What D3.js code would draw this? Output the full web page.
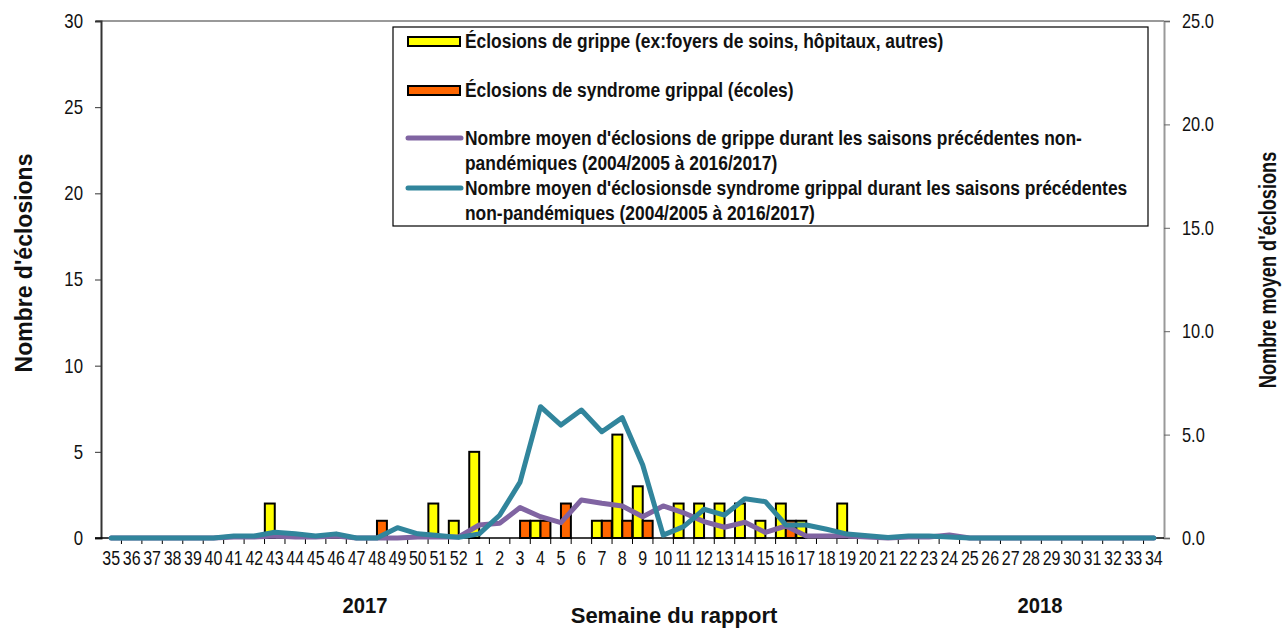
<!DOCTYPE html>
<html>
<head>
<meta charset="utf-8">
<script src="https://cdn.jsdelivr.net/npm/d3@7"></script>
<style>
  body { margin: 0; background: #fff; }
  svg text { font-family: "Liberation Sans", Arial, sans-serif; fill: #111; }
</style>
</head>
<body>
<div id="chartContainer"></div>
<script>
// week labels (season 2017/2018)
const weeks = ["35","36","37","38","39","40","41","42","43","44","45","46","47","48","49","50","51","52",
	"1","2","3","4","5","6","7","8","9","10","11","12","13","14","15","16","17","18","19","20",
	"21","22","23","24","25","26","27","28","29","30","31","32","33","34"];

// outbreaks of influenza (care homes, hospitals, others)
const grippe = [0,0,0,0,0,0,0,0,2,0,0,0,0,0,0,0,2,1,
	5,0,0,1,0,0,1,6,3,0,2,2,2,2,1,2,1,0,2,0,
	0,0,0,0,0,0,0,0,0,0,0,0,0,0];

// outbreaks of influenza-like illness (schools)
const syndrome = [0,0,0,0,0,0,0,0,0,0,0,0,0,1,0,0,0,0,
	0,0,1,1,2,0,1,1,1,0,0,0,0,0,0,1,0,0,0,0,
	0,0,0,0,0,0,0,0,0,0,0,0,0,0];

// average of previous non-pandemic seasons, influenza
const moyenGrippe = [0,0,0,0,0,0,0.05,0.05,0.1,0.05,0.05,0.1,0,0,0,0.05,0.05,0.05,
	0.63,0.71,1.47,1.03,0.74,1.84,1.68,1.55,1.03,1.55,1.22,0.79,0.52,0.76,0.27,0.58,0.1,0.1,0.1,0.05,
	0,0.05,0.05,0.15,0,0,0,0,0,0,0,0,0,0];

// average of previous non-pandemic seasons, ILI
const moyenSyndrome = [0,0,0,0,0,0,0.1,0.1,0.28,0.2,0.1,0.2,0,0,0.5,0.2,0.12,0.03,
	0.2,1.1,2.7,6.35,5.46,6.19,5.14,5.82,3.53,0.14,0.55,1.39,1.11,1.9,1.76,0.63,0.63,0.42,0.19,0.11,
	0.02,0.1,0.1,0.05,0,0,0,0,0,0,0,0,0,0];

const leftTicks = [0,5,10,15,20,25,30];
const rightTicks = [0,5,10,15,20,25];

const legendItems = [
	{ kind: "bar", color: "#FFFF00", lines: ["Éclosions de grippe (ex:foyers de soins, hôpitaux, autres)"] },
	{ kind: "bar", color: "#FF6600", lines: ["Éclosions de syndrome grippal (écoles)"] },
	{ kind: "line", color: "#8064A2", lines: ["Nombre moyen d'éclosions de grippe durant les saisons précédentes non-", "pandémiques (2004/2005 à 2016/2017)"] },
	{ kind: "line", color: "#31859C", lines: ["Nombre moyen d'éclosionsde syndrome grippal  durant les saisons précédentes", "non-pandémiques (2004/2005 à 2016/2017)"] }
];

// squeeze text horizontally to mimic a narrow font
function condense(sel, k){
	sel.each(function(){
		let t = d3.select(this);
		let x = +t.attr("x") || 0;
		t.attr("x", x / k).attr("transform", `scale(${k},1)`);
	});
}

function drawChart(){

	let svg = d3.select("#chartContainer")
		.append("svg")
		.attr("width", 1283)
		.attr("height", 629);

	let left = 101, right = 1164, top = 21, bottom = 538;

	let x = d3.scaleBand()
		.domain(weeks)
		.range([left, right]);

	let xSub = d3.scaleBand()
		.domain(["grippe", "syndrome"])
		.range([0, x.bandwidth()])
		.paddingOuter(0.03);

	let yLeft = d3.scaleLinear().domain([0, 30]).range([bottom, top]);
	let yRight = d3.scaleLinear().domain([0, 25]).range([bottom, top]);

	// top border of plot area
	svg.append("line")
		.attr("x1", left - 5).attr("x2", right)
		.attr("y1", top).attr("y2", top)
		.attr("stroke", "#999").attr("stroke-width", 2);

	// bars
	let barData = [];
	weeks.forEach((w, i) => {
		barData.push({ week: w, key: "grippe", value: grippe[i], color: "#FFFF00" });
		barData.push({ week: w, key: "syndrome", value: syndrome[i], color: "#FF6600" });
	});

	svg.append("g")
		.selectAll("rect")
		.data(barData.filter(d => d.value > 0))
		.join("rect")
		.attr("x", d => x(d.week) + xSub(d.key))
		.attr("y", d => yLeft(d.value))
		.attr("width", xSub.bandwidth())
		.attr("height", d => yLeft(0) - yLeft(d.value))
		.attr("fill", d => d.color)
		.attr("stroke", "#000")
		.attr("stroke-width", 2);

	// left axis
	let leftAxis = svg.append("g")
		.attr("transform", `translate(${left},0)`)
		.call(d3.axisLeft(yLeft).tickValues(leftTicks).tickSize(6).tickPadding(12).tickFormat(d3.format("d")));
	leftAxis.select(".domain").attr("stroke", "#333").attr("stroke-width", 2);
	leftAxis.selectAll(".tick line").attr("stroke", "#333");
	leftAxis.selectAll(".tick text").attr("font-size", 20).attr("font-family", null).call(condense, 0.84);

	// right axis
	let rightAxis = svg.append("g")
		.attr("transform", `translate(${right},0)`)
		.call(d3.axisRight(yRight).tickValues(rightTicks).tickSize(6).tickPadding(12).tickFormat(d3.format(".1f")));
	rightAxis.select(".domain").attr("stroke", "#999").attr("stroke-width", 2);
	rightAxis.selectAll(".tick line").attr("stroke", "#666");
	rightAxis.selectAll(".tick text").attr("font-size", 20).attr("font-family", null).call(condense, 0.82);

	// bottom axis: labels centred, ticks between categories
	let bottomAxis = svg.append("g")
		.attr("transform", `translate(0,${bottom})`)
		.call(d3.axisBottom(x).tickSize(0).tickPadding(13));
	bottomAxis.select(".domain").remove();
	bottomAxis.selectAll(".tick text").attr("font-size", 20).attr("font-family", null).call(condense, 0.8);

	svg.append("line")
		.attr("x1", left - 6).attr("x2", right)
		.attr("y1", bottom).attr("y2", bottom)
		.attr("stroke", "#000").attr("stroke-width", 1.5);

	svg.append("g")
		.selectAll("line")
		.data(weeks.slice(1))
		.join("line")
		.attr("x1", d => x(d)).attr("x2", d => x(d))
		.attr("y1", bottom).attr("y2", bottom + 6)
		.attr("stroke", "#000");

	// average lines
	let lineGen = d3.line()
		.x((d, i) => x(weeks[i]) + x.bandwidth() / 2)
		.y(d => yRight(d));

	[[moyenGrippe, "#8064A2"], [moyenSyndrome, "#31859C"]].forEach(([series, color]) => {
		svg.append("path")
			.datum(series)
			.attr("d", lineGen)
			.attr("fill", "none")
			.attr("stroke", color)
			.attr("stroke-width", 5)
			.attr("stroke-linejoin", "round")
			.attr("stroke-linecap", "round");
	});

	// axis titles
	svg.append("text")
		.attr("transform", "translate(32,263) rotate(-90)")
		.attr("text-anchor", "middle")
		.attr("font-size", 23).attr("font-weight", "bold")
		.text("Nombre d'éclosions");

	svg.append("text")
		.attr("transform", "translate(1276,270) rotate(-90) scale(0.79,1)")
		.attr("text-anchor", "middle")
		.attr("font-size", 23).attr("font-weight", "bold")
		.text("Nombre moyen d'éclosions");

	svg.append("text")
		.attr("x", 674).attr("y", 623)
		.attr("text-anchor", "middle")
		.attr("font-size", 22).attr("font-weight", "bold")
		.text("Semaine du rapport");

	svg.append("text")
		.attr("x", 365).attr("y", 613)
		.attr("text-anchor", "middle")
		.attr("font-size", 22).attr("font-weight", "bold")
		.attr("transform", "translate(365,0) scale(0.92,1) translate(-365,0)")
		.text("2017");

	svg.append("text")
		.attr("x", 1040).attr("y", 613)
		.attr("text-anchor", "middle")
		.attr("font-size", 22).attr("font-weight", "bold")
		.attr("transform", "translate(1040,0) scale(0.92,1) translate(-1040,0)")
		.text("2018");

	// legend
	let legend = svg.append("g").attr("transform", "translate(393,27)");
	legend.append("rect")
		.attr("width", 755).attr("height", 199)
		.attr("fill", "#fff").attr("stroke", "#000").attr("stroke-width", 1.2);

	let rowY = [14, 63, 111, 161];
	legendItems.forEach((item, i) => {
		let g = legend.append("g").attr("transform", `translate(0,${rowY[i]})`);
		if (item.kind === "bar") {
			g.append("rect")
				.attr("x", 15).attr("y", -4).attr("width", 52).attr("height", 9)
				.attr("fill", item.color).attr("stroke", "#000").attr("stroke-width", 2);
		} else {
			g.append("line")
				.attr("x1", 15).attr("x2", 68).attr("y1", 0).attr("y2", 0)
				.attr("stroke", item.color).attr("stroke-width", 5).attr("stroke-linecap", "round");
		}
		item.lines.forEach((t, j) => {
			g.append("text")
				.attr("x", 72).attr("y", j * 25)
				.attr("dy", "0.35em")
				.attr("font-size", 20).attr("font-weight", "bold")
				.text(t)
				.call(condense, 0.87);
		});
	});
}

drawChart();
</script>
</body>
</html>
